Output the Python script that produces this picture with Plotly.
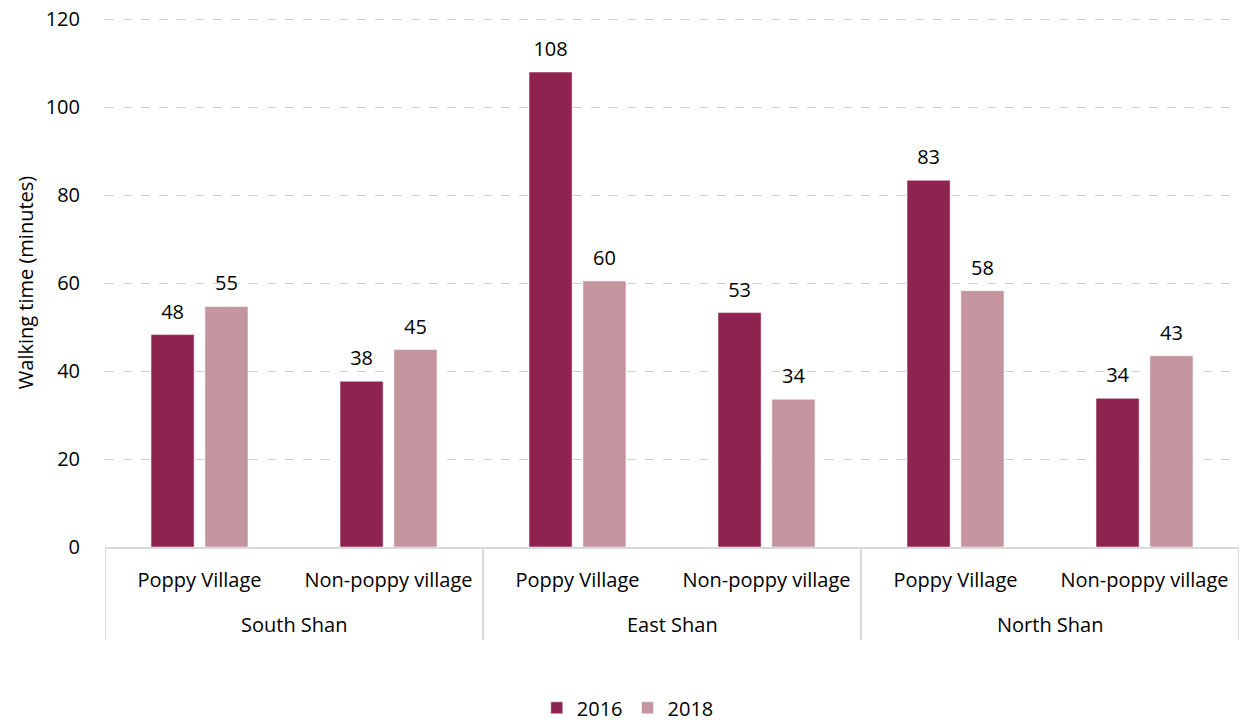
import plotly.graph_objects as go

regions = ["South Shan", "East Shan", "North Shan"]
village_types = ["Poppy Village", "Non-poppy village"]
values_2016 = [48, 38, 108, 53, 83, 34]
values_2018 = [55, 45, 60, 34, 58, 43]
bar_heights_2016 = [48.3, 37.7, 108.0, 53.3, 83.4, 33.8]
bar_heights_2018 = [54.7, 44.9, 60.5, 33.6, 58.3, 43.5]
y_ticks = [0, 20, 40, 60, 80, 100, 120]

FONT = "Open Sans"
FS = 20
COL16 = "#8E2350"
COL18 = "#C4949F"
GRID = "#D9D9D9"

n = len(regions) * len(village_types)
xpos = list(range(n))
tick_text = [village_types[i % len(village_types)] for i in range(n)]

fig = go.Figure()
for name, h, v, col in [("2016", bar_heights_2016, values_2016, COL16),
                        ("2018", bar_heights_2018, values_2018, COL18)]:
    fig.add_trace(go.Bar(
        x=xpos, y=h, name=name, offsetgroup=name,
        marker=dict(color=col, line=dict(color="white", width=0.5)),
        hoverinfo="skip",
    ))
    fig.add_trace(go.Scatter(
        x=xpos, y=h, mode="text+markers", offsetgroup=name, showlegend=False,
        marker=dict(size=16, color="rgba(0,0,0,0)"),
        text=[str(t) for t in v], textposition="top center",
        textfont=dict(size=FS, color="#000000", family=FONT), cliponaxis=False,
        hoverinfo="skip",
    ))

# region labels and dividers
k = len(village_types)
for gi, reg in enumerate(regions):
    center = gi * k + (k - 1) / 2
    fig.add_annotation(x=center, y=-0.1474, xref="x", yref="paper", text=reg,
                       showarrow=False, yanchor="middle",
                       font=dict(size=FS, family=FONT, color="#000000"))
for b in range(len(regions) + 1):
    fig.add_shape(type="line", x0=b * k - 0.5, x1=b * k - 0.5, y0=0, y1=-0.176,
                  xref="x", yref="paper", line=dict(color=GRID, width=2), layer="below")

fig.update_layout(
    width=1231, height=714,
    margin=dict(l=97, r=0, t=10, b=175, autoexpand=False),
    paper_bgcolor="white", plot_bgcolor="white",
    barmode="group", bargap=0.43, bargroupgap=0.2,
    scattermode="group", scattergap=0.43,
    font=dict(family=FONT, size=FS, color="#000000"),
    legend=dict(orientation="h", x=0.461, xanchor="center", y=-0.304, yanchor="middle",
                font=dict(size=FS), itemwidth=30, traceorder="normal"),
)
fig.update_xaxes(
    range=[-0.5, n - 0.5], tickmode="array", tickvals=xpos, ticktext=tick_text,
    showline=True, linecolor=GRID, linewidth=2, showgrid=False, zeroline=False,
    tickfont=dict(size=FS), ticks="", automargin=False, ticklabelstandoff=14,
)
fig.update_yaxes(
    range=[0, 120.3], tickmode="array", tickvals=y_ticks,
    showgrid=True, gridcolor="#D0D0D0", griddash="dash",
    gridwidth=1, zeroline=False, showline=False, tickfont=dict(size=FS),
    title=dict(text="Walking time (minutes)", font=dict(size=FS), standoff=6),
    ticks="", ticklabelstandoff=24, automargin=False, ticklabeloverflow="allow",
)
fig.write_html("out.html")
